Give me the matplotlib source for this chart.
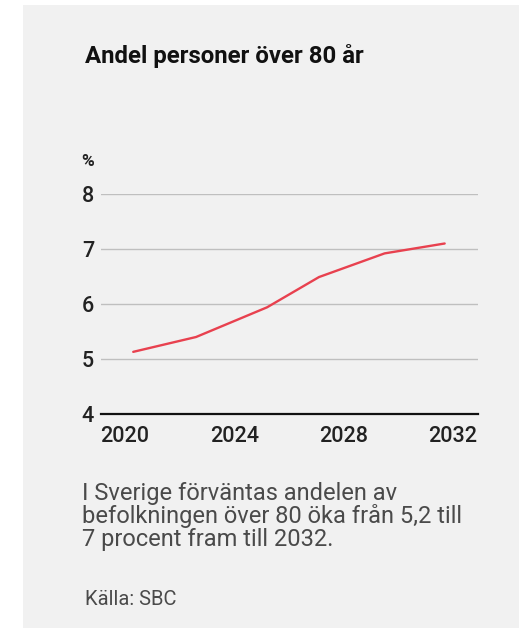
import matplotlib.pyplot as plt
from matplotlib.patches import Rectangle

# values (year, percent of population over 80)
years = [2020.3, 2022.6, 2025.2, 2027.1, 2029.5, 2031.7]
share = [5.13, 5.40, 5.94, 6.49, 6.92, 7.10]
yticks = [4, 5, 6, 7, 8]
xticks = [2020, 2024, 2028, 2032]

title = "Andel personer över 80 år"
body = "I Sverige förväntas andelen av\nbefolkningen över 80 öka från 5,2 till\n7 procent fram till 2032."
source = "Källa: SBC"

plt.rcParams['font.family'] = ['Roboto', 'DejaVu Sans']

W, H = 519, 629
fig = plt.figure(figsize=(W / 100, H / 100), dpi=100)
fig.patch.set_facecolor('white')

# grey card behind everything
fig.patches.append(Rectangle((23 / W, 1 - 628 / H), 1 - 23 / W, 623 / H,
                             transform=fig.transFigure, facecolor='#f1f1f1',
                             edgecolor='none', zorder=-5))

ax = fig.add_axes([101 / W, 1 - 414 / H, 377 / W, 220 / H])
ax.set_facecolor('none')
ax.plot(years, share, color='#e8414f', lw=1.7, solid_capstyle='round', zorder=3)

ax.set_xlim(2019.12, 2032.92)
ax.set_ylim(4, 8)
ax.set_yticks(yticks)
ax.set_xticks(xticks)
for y in yticks[1:]:
    ax.axhline(y, color='#bfbfbf', lw=1.0, zorder=1)

for s in ['top', 'right', 'left']:
    ax.spines[s].set_visible(False)
ax.spines['bottom'].set_color('#111111')
ax.spines['bottom'].set_linewidth(1.6)
ax.tick_params(axis='both', length=0, labelsize=15.5, colors='#222222')
ax.tick_params(axis='y', pad=5)
ax.tick_params(axis='x', pad=9)
for lbl in ax.get_xticklabels() + ax.get_yticklabels():
    lbl.set_fontweight('medium')

fig.text(88 / W, 1 - 161 / H, '%', ha='center', va='center', fontsize=12.5,
         fontweight='bold', color='#222222')

fig.text(85 / W, 1 - 63 / H, title, ha='left', va='baseline', fontsize=17.3,
         fontweight='bold', color='#111111')
fig.text(82 / W, 1 - 546 / H, body, ha='left', va='baseline', fontsize=17,
         color='#4a4a4a', linespacing=0.98)
fig.text(85 / W, 1 - 605 / H, source, ha='left', va='baseline', fontsize=14.5,
         color='#4a4a4a')

fig.savefig('out.png', dpi=100)
